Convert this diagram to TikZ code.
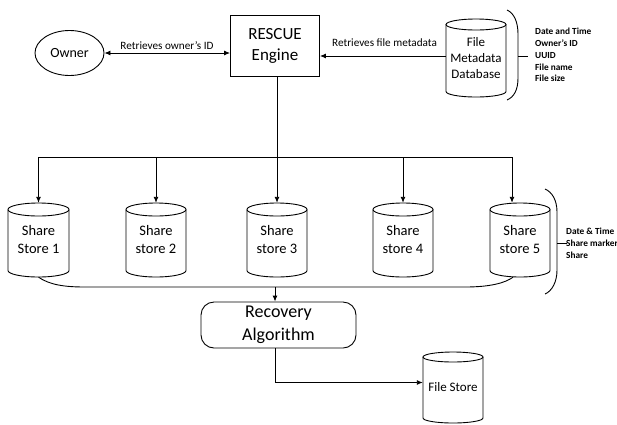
\documentclass[tikz,border=0pt]{standalone}
\usepackage{fontspec}
\setmainfont{Carlito}
\usetikzlibrary{arrows.meta,shapes.geometric}
\tikzset{
  ln/.style={line width=0.9pt},
  arr/.style={line width=0.9pt, -{Latex[length=6pt,width=5pt]}},
  dblarr/.style={line width=0.9pt, {Latex[length=6pt,width=5pt]}-{Latex[length=6pt,width=5pt]}},
  lbl/.style={font=\fontsize{11.2}{13}\selectfont, inner sep=0pt},
  lst/.style={font=\bfseries\fontsize{9.3}{11.8}\selectfont, align=left, inner sep=0pt, anchor=north west},
  cylbox/.style={inner sep=0pt, align=center},
}
% #1 name, #2 cx, #3 top y, #4 bottom y, #5 half width, #6 ry, #7 font, #8 text
\newcommand{\cylnode}[8]{%
  \draw[ln] (#2-#5,-#3-#6) -- (#2-#5,-#4+#6) arc[start angle=180,end angle=360,x radius=#5,y radius=#6] -- (#2+#5,-#3-#6);
  \draw[ln] (#2,-#3-#6) ellipse[x radius=#5,y radius=#6];
  \node[cylbox, minimum width=2*#5pt, minimum height=#4pt-#3pt, font=#7] (#1) at (#2,{-(#3+#4)/2}) {#8};
}
\begin{document}
\begin{tikzpicture}[x=1pt,y=1pt]
\useasboundingbox (0,0) rectangle (617,-424);

% top row
\node[draw, ln, ellipse, minimum width=69pt, minimum height=45pt, inner sep=0pt,
      font=\fontsize{14}{16}\selectfont] (owner) at (69.5,-53) {Owner};
\node[draw, ln, minimum width=89pt, minimum height=61pt, inner sep=0pt, align=center,
      font=\fontsize{17}{21}\selectfont] (rescue) at (275,-45.5) {RESCUE\\Engine};
\cylnode{fmd}{476}{19}{97}{30}{5.5}{\fontsize{13}{16}\selectfont}{File\\Metadata\\Database}

\draw[dblarr] (owner.east) -- (owner.east -| rescue.west);
\node[lbl] (lblown) at (167,-46) {Retrieves owner’s ID};
\draw[arr] ([yshift=2pt]fmd.west) -- ([yshift=2pt]fmd.west -| rescue.east);
\node[lbl] (lblmeta) at (384.5,-43) {Retrieves file metadata};

% brace 1
\draw[ln] (507,-10) .. controls (514,-13) and (518,-22) .. (518,-34) -- (518,-78)
          .. controls (518,-90) and (514,-97) .. (507,-100);
\draw[ln] (518,-56) -- (528,-56);
\node[lst] (meta) at (535,-28) {Date and Time\\Owner’s ID\\UUID\\File name\\File size};

% share stores
\cylnode{s1}{38.5}{203}{277}{30.5}{6.5}{\fontsize{14.5}{18}\selectfont}{Share\\Store 1}
\cylnode{s2}{156}{203}{277}{30}{6.5}{\fontsize{14.5}{18}\selectfont}{Share\\store 2}
\cylnode{s3}{277}{203}{277}{30}{6.5}{\fontsize{14.5}{18}\selectfont}{Share\\store 3}
\cylnode{s4}{403}{203}{277}{30}{6.5}{\fontsize{14.5}{18}\selectfont}{Share\\store 4}
\cylnode{s5}{520}{203}{277}{30}{6.5}{\fontsize{14.5}{18}\selectfont}{Share\\store 5}

\coordinate (busL) at (38.5,-157);
\coordinate (busR) at (512,-157);
\draw[ln] (busL) -- (busR);
\draw[arr] (s3.north |- rescue.south) -- (s3.north);
\draw[arr] (busL) -- (s1.north);
\draw[arr] (s2.north |- busL) -- (s2.north);
\draw[arr] (s4.north |- busL) -- (s4.north);
\draw[arr] (busR) -- (busR |- s5.north);

% brace 2
\draw[ln] (545,-189) .. controls (552,-192) and (557,-200) .. (557,-212) -- (557,-270)
          .. controls (557,-282) and (552,-291) .. (545,-294);
\draw[ln] (557,-243) -- (567,-243);
\node[lst] (sharemeta) at (566,-228) {Date \& Time\\Share marker\\Share};

% merge curve
\draw[ln] (s1.south) .. controls (50,-285) and (65,-287) .. (85,-287) -- (465,-287)
          .. controls (490,-287) and (505,-283) .. ([xshift=-7pt]s5.south);
\coordinate (merge) at (275,-287);

% recovery
\node[draw, ln, rounded corners=13pt, minimum width=155pt, minimum height=46pt, inner sep=0pt,
      align=center, font=\fontsize{18}{23}\selectfont] (rec) at (278.5,-325) {Recovery\\Algorithm};
\draw[arr] (merge) -- (merge |- rec.north);

\cylnode{fs}{453}{352}{423}{30}{5}{\fontsize{13}{16}\selectfont}{File Store}
\draw[arr] ([xshift=-3.5pt]rec.south) |- ([yshift=5pt]fs.west);
\end{tikzpicture}
\end{document}
